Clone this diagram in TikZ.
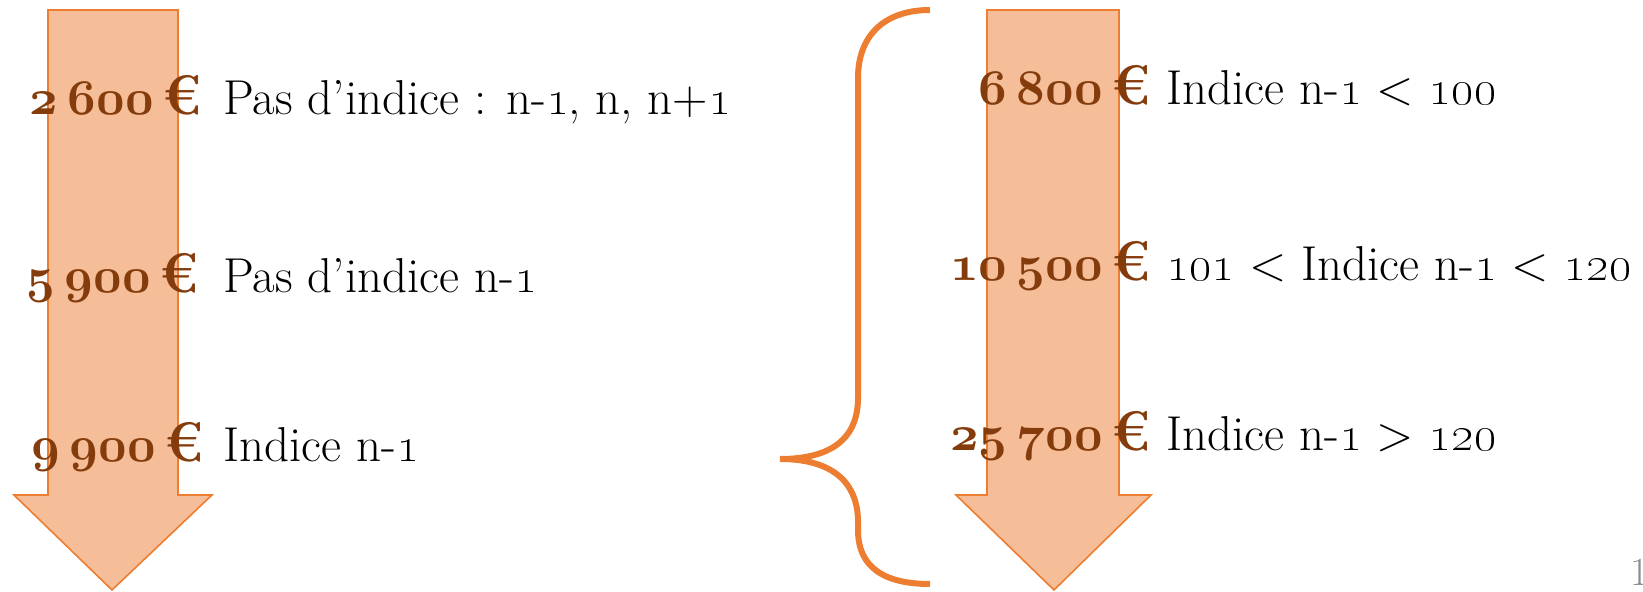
\documentclass[tikz,border=0pt]{standalone}
\definecolor{arrfill}{HTML}{F5BD98}
\definecolor{arrline}{HTML}{ED7D31}
\definecolor{amt}{HTML}{843C0C}
\definecolor{pgnum}{HTML}{8C8C8C}
\tikzset{
  bigarrow/.style={fill=arrfill, draw=arrline, line width=0.8pt, line join=miter},
  brace/.style={draw=arrline, line width=3pt},
  amount/.style={anchor=base east, inner sep=0pt, text=amt, font=\fontsize{28}{32}\selectfont\bfseries},
  lbl/.style={anchor=base west, inner sep=0pt, text=black, font=\fontsize{24.5}{30}\selectfont},
}
\newcommand{\os}[1]{\oldstylenums{#1}}
\newcommand{\bos}[1]{{\fontencoding{OML}\fontfamily{cmm}\fontseries{b}\fontshape{it}\selectfont #1}}
\newcommand{\eur}{\hspace{0.15em}€}
\begin{document}
\begin{tikzpicture}[x=0.5pt,y=-0.5pt]
\useasboundingbox (0,0) rectangle (1643,592);
% left arrow
\path[bigarrow] (48,10) -- (178,10) -- (178,495) -- (212,495) -- (112,590) -- (14,495) -- (48,495) -- cycle;
% right arrow
\path[bigarrow] (987,10) -- (1119,10) -- (1119,495) -- (1151,495) -- (1054,590) -- (956,495) -- (987,495) -- cycle;
% brace
\path[brace] (930,10) .. controls (885,10) and (858,35) .. (858,78)
  -- (858,398) .. controls (858,438) and (832,459) .. (780,459)
  .. controls (832,459) and (858,482) .. (858,522)
  -- (858,530) .. controls (858,568) and (885,584) .. (930,584);
% left texts
\node[amount] (a1) at (202,115) {\bos{2}\,\bos{600}\eur};
\node[lbl] (t1) at (223,115) {Pas d’indice : n-\os{1}, n, n+\os{1}};
\node[amount] (a2) at (199,293) {\bos{5}\,\bos{900}\eur};
\node[lbl] (t2) at (223,293) {Pas d’indice n-\os{1}};
\node[amount] (a3) at (204,462) {\bos{9}\,\bos{900}\eur};
\node[lbl] (t3) at (223,462) {Indice n-\os{1}};
% right texts
\node[amount] (a4) at (1151,105) {\bos{6}\,\bos{800}\eur};
\node[lbl] (t4) at (1166,105) {Indice n-\os{1} < \os{100}};
\node[amount] (a5) at (1151,281) {\bos{10}\,\bos{500}\eur};
\node[lbl] (t5) at (1166,281) {\os{101} < Indice n-\os{1} < \os{120}};
\node[amount] (a6) at (1151,451) {\bos{25}\,\bos{700}\eur};
\node[lbl] (t6) at (1166,451) {Indice n-\os{1} > \os{120}};
% page number
\node[anchor=base west, inner sep=0pt, text=pgnum, font=\fontsize{20}{24}\selectfont] (pg) at (1630,585) {1};
\end{tikzpicture}
\end{document}
